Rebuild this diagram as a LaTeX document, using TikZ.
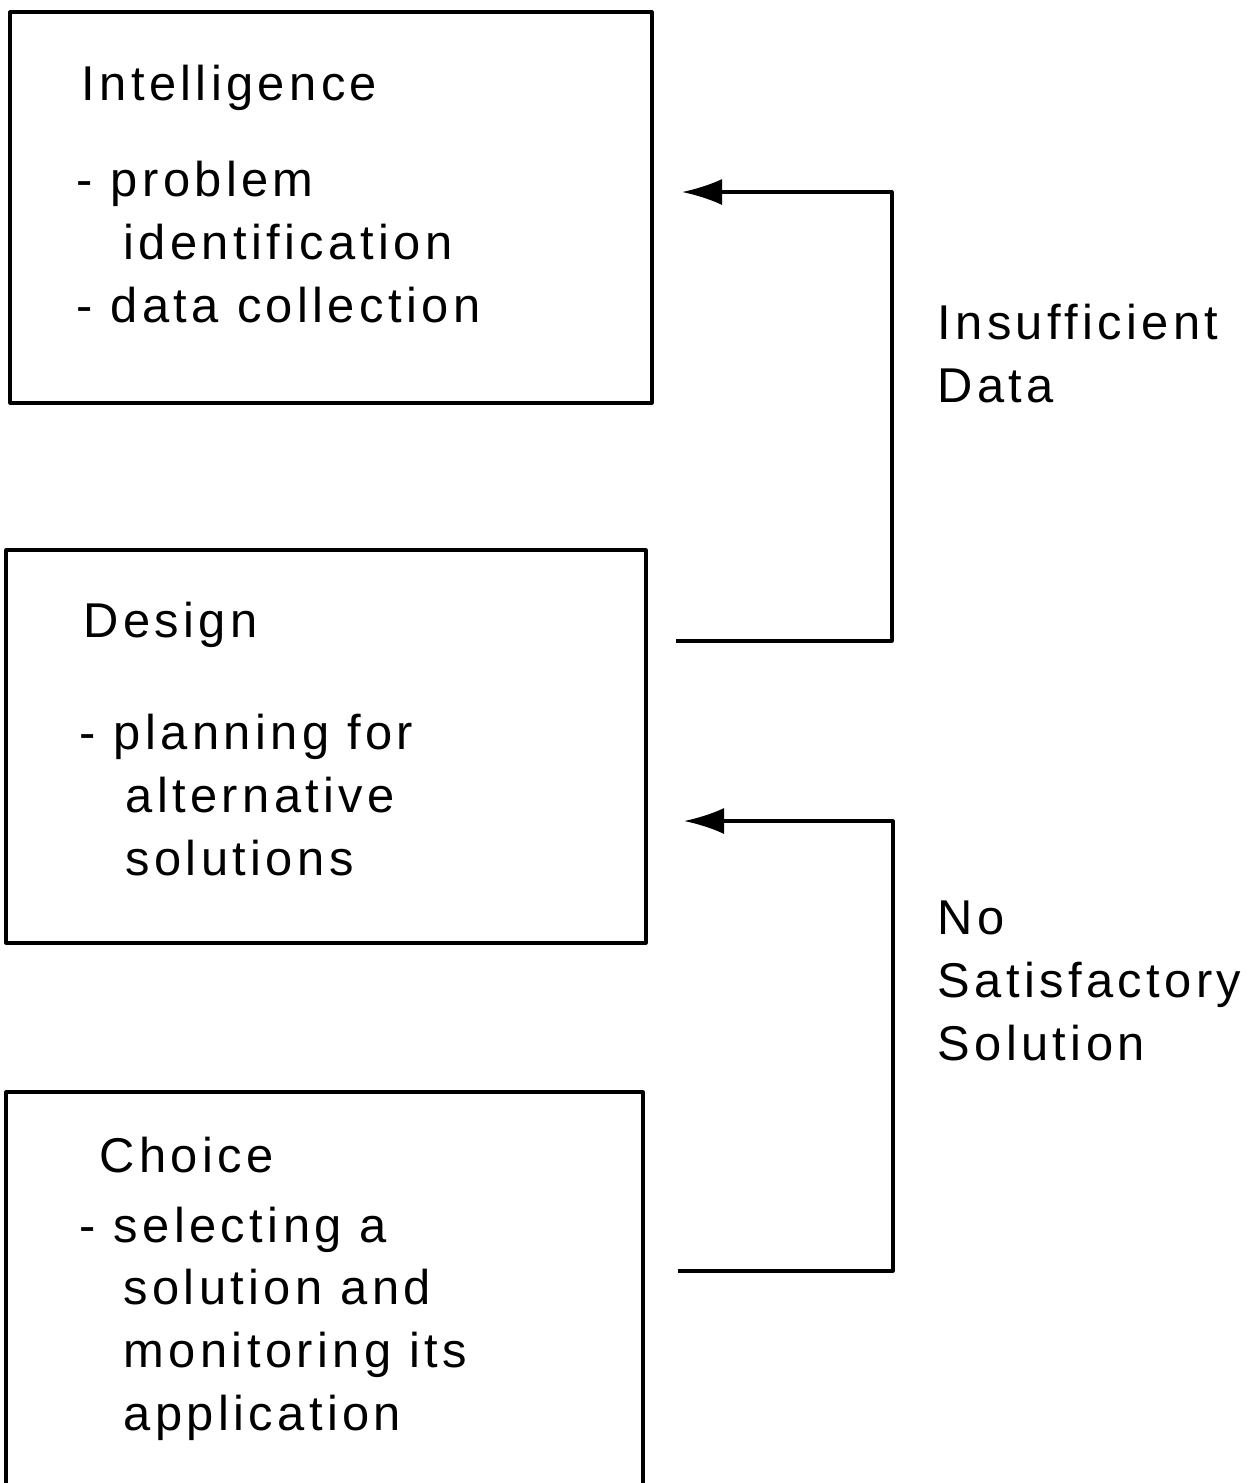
\documentclass[tikz,border=0pt]{standalone}
\usepackage{fontspec}
\setmainfont[LetterSpace=9]{Liberation Sans}
\usetikzlibrary{arrows.meta}
\begin{document}
\begin{tikzpicture}[line join=round, >={Latex[length=4mm,width=2.6mm]}, line width=0.9pt,
	box/.style={draw, rectangle, inner sep=0pt},
	txt/.style={anchor=base west, inner sep=0pt, align=left, font=\fontsize{13.9}{17.8}\selectfont}]
	\clip (0,0) rectangle (12.52,-14.83);
	% the three phases
	\node[box, minimum width=6.42cm, minimum height=3.91cm] (intel) at (3.31,-2.075) {};
	\node[box, minimum width=6.40cm, minimum height=3.93cm] (design) at (3.26,-7.465) {};
	\node[box, minimum width=6.37cm, minimum height=4.20cm] (choice) at (3.245,-13.02) {};
	\node[txt] (intelT) at (0.80,-1.00) {Intelligence};
	\node[txt] (intelL) at (0.75,-3.22) {- problem\\\hspace*{4.7mm}identification\\- data collection};
	\node[txt] (designT) at (0.82,-6.37) {Design};
	\node[txt] (designL) at (0.78,-8.75) {- planning for\\\hspace*{4.6mm}alternative\\\hspace*{4.6mm}solutions};
	\node[txt] (choiceT) at (0.98,-11.72) {Choice};
	\node[txt] (choiceL) at (0.78,-14.30) {- selecting a\\\hspace*{4.4mm}solution and\\\hspace*{4.4mm}monitoring its\\\hspace*{4.4mm}application};
	% feedback loops
	\coordinate (d1) at (6.76,-6.41);
	\coordinate (i1) at (6.82,-1.92);
	\coordinate (c1) at (6.78,-12.71);
	\coordinate (d2) at (6.84,-8.21);
	\draw[->] (d1) -- (8.92,-6.41) |- (i1);
	\draw[->] (c1) -- (8.93,-12.71) |- (d2);
	\node[txt] (insuf) at (9.36,-4.02) {Insufficient\\Data};
	\node[txt] (nosat) at (9.36,-10.60) {No\\Satisfactory\\Solution};
\end{tikzpicture}
\end{document}
